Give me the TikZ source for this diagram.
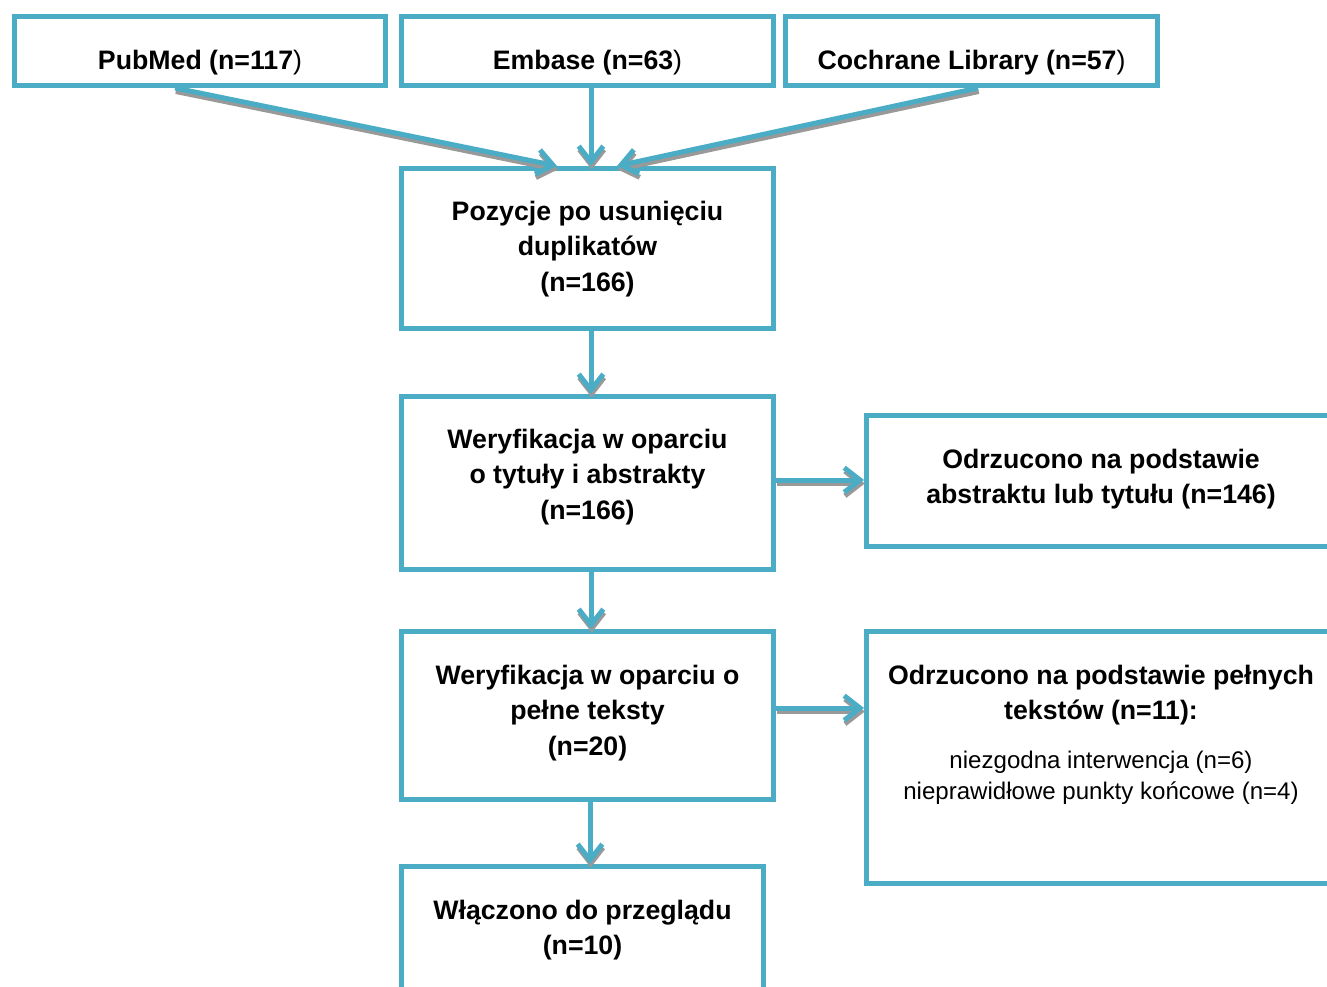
\documentclass[tikz,border=0pt]{standalone}
\usepackage{fontspec}
\setmainfont{Liberation Sans}
\usetikzlibrary{arrows.meta,positioning}
\definecolor{flowblue}{HTML}{4BACC6}

\begin{document}
\begin{tikzpicture}[
  x=0.02cm, y=-0.02cm,
  box/.style={draw=flowblue,line width=0.1cm,fill=white,inner sep=0pt},
  boxtext/.style={align=center,inner sep=0pt,font=\fontsize{15.2}{20}\selectfont\bfseries},
  listtext/.style={align=center,inner sep=0pt,font=\fontsize{13.7}{17.6}\selectfont},
  flow/.style={draw=flowblue,line width=0.1cm,-{Straight Barb[length=9pt,width=14pt]},
    preaction={draw=black!40,line width=0.1cm,transform canvas={shift={(0.015cm,-0.07cm)}}}}
]
  \useasboundingbox (0,0) rectangle (1327,986);
  \clip (0,0) rectangle (1327,986);

  % sources
  \node[box,minimum width=7.42cm,minimum height=1.38cm] (pubmed) at (200,51) {};
  \node[box,minimum width=7.44cm,minimum height=1.38cm] (embase) at (587.5,51) {};
  \node[box,minimum width=7.44cm,minimum height=1.38cm] (cochrane) at (971.5,51) {};
  \node[boxtext] (pubmedtext) at (200,63) {PubMed (n=117\textmd{)}};
  \node[boxtext] (embasetext) at (587.5,63) {Embase (n=63\textmd{)}};
  \node[boxtext] (cochranetext) at (971.5,63) {Cochrane Library (n=57\textmd{)}};

  % main column
  \node[box,minimum width=7.44cm,minimum height=3.2cm] (dedup) at (587.5,248.5) {};
  \node[box,minimum width=7.44cm,minimum height=3.46cm] (screen) at (587.5,483) {};
  \node[box,minimum width=7.44cm,minimum height=3.36cm] (fulltext) at (587.5,715.5) {};
  \node[box,minimum width=7.24cm,minimum height=2.47cm] (included) at (582.5,928.25) {};
  \node[boxtext] (deduptext) at (587.5,249) {Pozycje po usunięciu\\duplikatów\\(n=166)};
  \node[boxtext] (screentext) at (587.5,477) {Weryfikacja w oparciu\\o tytuły i abstrakty\\(n=166)};
  \node[boxtext] (fulltexttext) at (587.5,713) {Weryfikacja w oparciu o\\pełne teksty\\(n=20)};
  \node[boxtext] (includedtext) at (582.5,930.5) {Włączono do przeglądu\\(n=10)};

  % exclusions
  \node[box,minimum width=9.34cm,minimum height=2.62cm] (excl1) at (1100,481) {};
  \node[box,minimum width=9.34cm,minimum height=5.04cm] (excl2) at (1100,757.5) {};
  \node[boxtext] (excl1text) at (1101,479.5) {Odrzucono na podstawie\\abstraktu lub tytułu (n=146)};
  \node[boxtext] (excl2text) at (1101,695) {Odrzucono na podstawie pełnych\\tekstów (n=11):};
  \node[listtext] (excl2list) at (1101,778) {niezgodna interwencja (n=6)\\nieprawidłowe punkty końcowe (n=4)};

  % arrows
  \draw[flow] ([xshift=-0.5cm]pubmed.south) -- ([xshift=-0.61cm]dedup.north);
  \draw[flow] ([xshift=0.07cm]embase.south) -- ([xshift=0.07cm]dedup.north);
  \draw[flow] ([xshift=0.13cm]cochrane.south) -- ([xshift=0.59cm]dedup.north);
  \draw[flow] ([xshift=0.07cm]dedup.south) -- ([xshift=0.07cm]screen.north);
  \draw[flow] ([xshift=0.07cm]screen.south) -- ([xshift=0.07cm]fulltext.north);
  \draw[flow] ([xshift=0.05cm]fulltext.south) -- ([xshift=0.05cm]fulltext.south |- included.north);
  \draw[flow] ([yshift=0.06cm]screen.east) -- ([yshift=0.06cm]screen.east -| excl1.west);
  \draw[flow] ([yshift=0.15cm]fulltext.east) -- ([yshift=0.15cm]fulltext.east -| excl2.west);
\end{tikzpicture}
\end{document}
